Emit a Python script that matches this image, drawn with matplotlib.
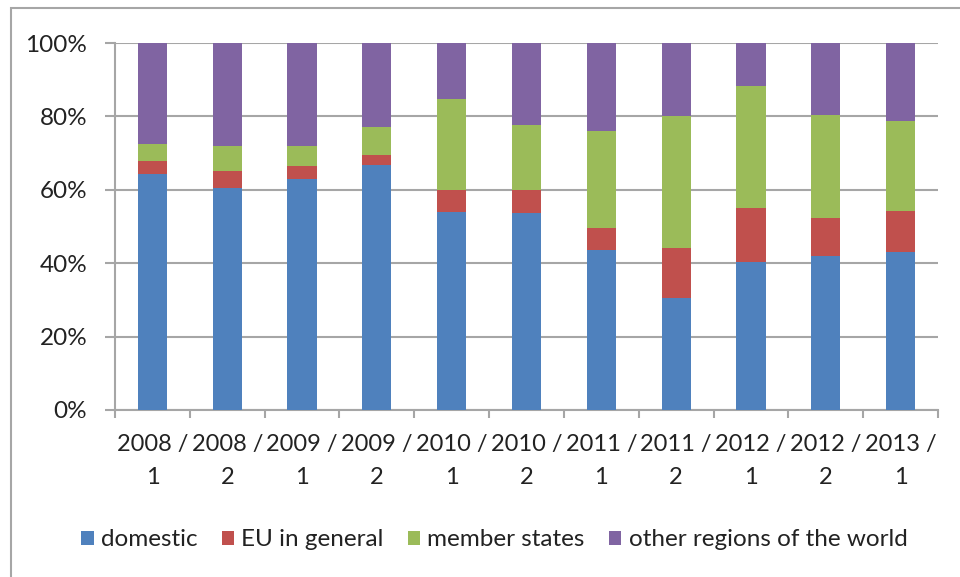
import matplotlib
matplotlib.use("Agg")
from matplotlib import pyplot as plt
from matplotlib.patches import Rectangle
import numpy as np

periods = ["2008 /\n1", "2008 /\n2", "2009 /\n1", "2009 /\n2", "2010 /\n1",
           "2010 /\n2", "2011 /\n1", "2011 /\n2", "2012 /\n1", "2012 /\n2",
           "2013 /\n1"]

domestic = [64.4, 60.5, 63.0, 66.8, 53.9, 53.6, 43.5, 30.5, 40.3, 42.0, 43.1]
eu_general = [3.5, 4.6, 3.5, 2.6, 6.0, 6.3, 6.2, 13.6, 14.7, 10.2, 11.2]
member_states = [4.6, 6.7, 5.3, 7.7, 24.8, 17.7, 26.3, 36.1, 33.2, 28.3, 24.4]
other_regions = [27.5, 28.2, 28.2, 22.9, 15.3, 22.4, 24.0, 19.8, 11.8, 19.5, 21.3]

series = [
    ("domestic", domestic, "#4f81bd"),
    ("EU in general", eu_general, "#c0504d"),
    ("member states", member_states, "#9bbb59"),
    ("other regions of the world", other_regions, "#8064a2"),
]

plt.rcParams["font.family"] = ["Lato", "DejaVu Sans"]

fig = plt.figure(figsize=(9.6, 5.77), dpi=100)
ax = fig.add_axes([115 / 960, 1 - 410 / 577, 823 / 960, 367 / 577])

# chart frame around the whole figure
fig.patches.append(Rectangle((11 / 960, -0.05), 1.2, 1 - 8 / 577 + 0.05,
                             transform=fig.transFigure, fill=False,
                             edgecolor="#a6a6a6", linewidth=1.5))

x = np.arange(len(periods))
total = (np.array(domestic) + np.array(eu_general)
         + np.array(member_states) + np.array(other_regions))
bottom = np.zeros(len(periods))
for name, vals, col in series:
    share = np.array(vals) / total
    ax.bar(x, share, 0.39, bottom=bottom, color=col, label=name, zorder=3)
    bottom += share

ax.set_xlim(-0.5, len(periods) - 0.5)
ax.set_ylim(0, 1)
ax.set_yticks(np.linspace(0, 1, 6))
ax.set_yticklabels(["0%", "20%", "40%", "60%", "80%", "100%"])
ax.yaxis.grid(True, color="#a6a6a6", linewidth=1.5, zorder=0)
ax.set_xticks(np.arange(len(periods) + 1) - 0.5)
ax.set_xticklabels([])
ax.set_xticks(x, minor=True)
ax.set_xticklabels(periods, minor=True, fontsize=17, linespacing=1.75,
                   color="#222222")
ax.tick_params(axis="x", which="minor", length=0, pad=17)
ax.tick_params(axis="x", which="major", length=6, width=1.5, color="#a6a6a6")
ax.tick_params(axis="y", length=7, width=1.5, color="#a6a6a6", labelsize=17.5,
               pad=13, labelcolor="#222222")
for side in ["top", "right"]:
    ax.spines[side].set_visible(False)
for side in ["left", "bottom"]:
    ax.spines[side].set_color("#a6a6a6")
    ax.spines[side].set_linewidth(1.5)

leg = fig.legend(loc="center", bbox_to_anchor=(0.515, 1 - 540 / 577), ncol=4,
                 frameon=False, fontsize=17.5, handlelength=0.5,
                 handleheight=0.5, handletextpad=0.3, columnspacing=1.0)
for t in leg.get_texts():
    t.set_color("#222222")

fig.savefig("out.png", dpi=100)
